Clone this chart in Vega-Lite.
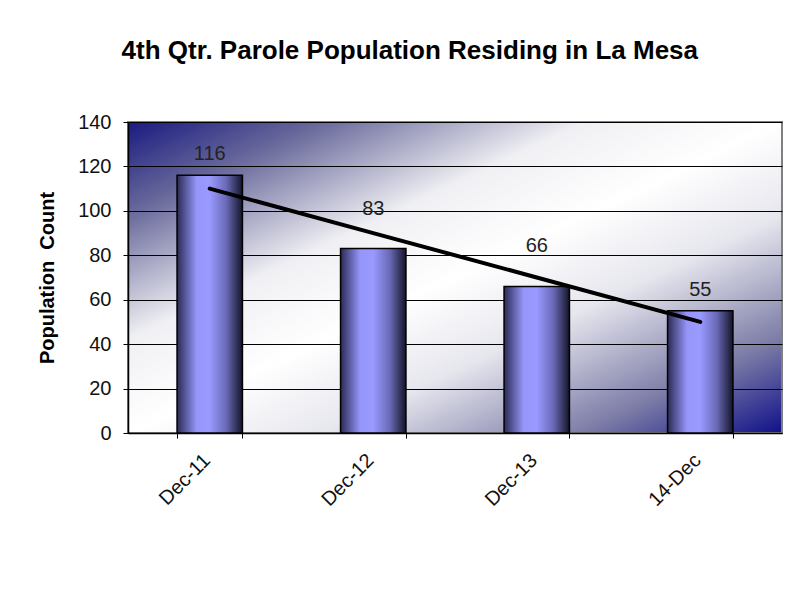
{
  "$schema": "https://vega.github.io/schema/vega-lite/v6.json",
  "width": 654,
  "height": 311,
  "autosize": "none",
  "padding": {"left": 128, "top": 122, "right": 18, "bottom": 164},
  "background": "white",
  "view": {
    "fill": {
      "gradient": "linear", "x1": 0, "y1": 0, "x2": 1, "y2": 1,
      "stops": [
        {"offset": 0, "color": "#1a1a80"},
        {"offset": 0.15, "color": "#6a6a9c"},
        {"offset": 0.35, "color": "#f0f0f4"},
        {"offset": 0.5, "color": "#ffffff"},
        {"offset": 0.65, "color": "#e6e6ee"},
        {"offset": 0.85, "color": "#7a7aa6"},
        {"offset": 1, "color": "#10108a"}
      ]
    },
    "stroke": "#808080",
    "strokeWidth": 2
  },
  "title": {
    "text": "4th Qtr. Parole Population Residing in La Mesa",
    "font": "Liberation Sans",
    "fontSize": 26,
    "fontWeight": "bold",
    "color": "#000000",
    "frame": "bounds",
    "anchor": "middle",
    "baseline": "alphabetic",
    "offset": 27
  },
  "data": {
    "values": [
      {"period": "Dec-11", "count": 116, "trend": 110},
      {"period": "Dec-12", "count": 83, "trend": 90},
      {"period": "Dec-13", "count": 66, "trend": 70},
      {"period": "14-Dec", "count": 55, "trend": 50}
    ]
  },
  "encoding": {
    "x": {
      "field": "period",
      "type": "nominal",
      "sort": null,
      "scale": {"paddingInner": 0.6, "paddingOuter": 0.3},
      "axis": {
        "title": null,
        "labelAngle": -45,
        "labelAlign": "right",
        "labelBaseline": "middle",
        "labelFont": "Liberation Sans",
        "labelFontSize": 20,
        "labelColor": "#111111",
        "labelPadding": 19,
        "labelOffset": -3,
        "tickBand": "extent",
        "tickSize": 5,
        "tickColor": "#000000",
        "domainColor": "#000000",
        "domainWidth": 1.5,
        "grid": false
      }
    }
  },
  "layer": [
    {
      "mark": {
        "type": "bar",
        "stroke": "#000000",
        "strokeWidth": 1.5,
        "color": {
          "gradient": "linear", "x1": 0, "y1": 0, "x2": 1, "y2": 0,
          "stops": [
            {"offset": 0, "color": "#2a2a55"},
            {"offset": 0.3, "color": "#9696fa"},
            {"offset": 0.5, "color": "#9999ff"},
            {"offset": 0.75, "color": "#6a6ab8"},
            {"offset": 1, "color": "#14142a"}
          ]
        }
      },
      "encoding": {
        "y": {
          "field": "count",
          "type": "quantitative",
          "scale": {"domain": [0, 140]},
          "axis": {
            "title": "Population\u00a0 Count",
            "titleFont": "Liberation Sans",
            "titleFontSize": 20,
            "titleFontWeight": "bold",
            "titleColor": "#000000",
            "titlePadding": 20,
            "values": [0, 20, 40, 60, 80, 100, 120, 140],
            "labelFont": "Liberation Sans",
            "labelFontSize": 20,
            "labelColor": "#111111",
            "labelPadding": 12,
            "tickSize": 5,
            "tickColor": "#000000",
            "domainColor": "#000000",
            "domainWidth": 1.5,
            "grid": true,
            "gridColor": "#000000",
            "gridWidth": 1
          }
        }
      }
    },
    {
      "mark": {"type": "line", "color": "#000000", "strokeWidth": 4, "strokeCap": "round"},
      "encoding": {
        "y": {"field": "trend", "type": "quantitative"}
      }
    },
    {
      "transform": [{"filter": "datum.period === 'Dec-11' || datum.period === '14-Dec'"}],
      "mark": {"type": "text", "font": "Liberation Sans", "fontSize": 20, "color": "#222222", "baseline": "middle", "dy": -21},
      "encoding": {
        "y": {"field": "count", "type": "quantitative"},
        "text": {"field": "count", "type": "quantitative"}
      }
    },
    {
      "transform": [{"filter": "datum.period === 'Dec-12' || datum.period === 'Dec-13'"}],
      "mark": {"type": "text", "font": "Liberation Sans", "fontSize": 20, "color": "#222222", "baseline": "middle", "dy": -40},
      "encoding": {
        "y": {"field": "count", "type": "quantitative"},
        "text": {"field": "count", "type": "quantitative"}
      }
    }
  ]
}
